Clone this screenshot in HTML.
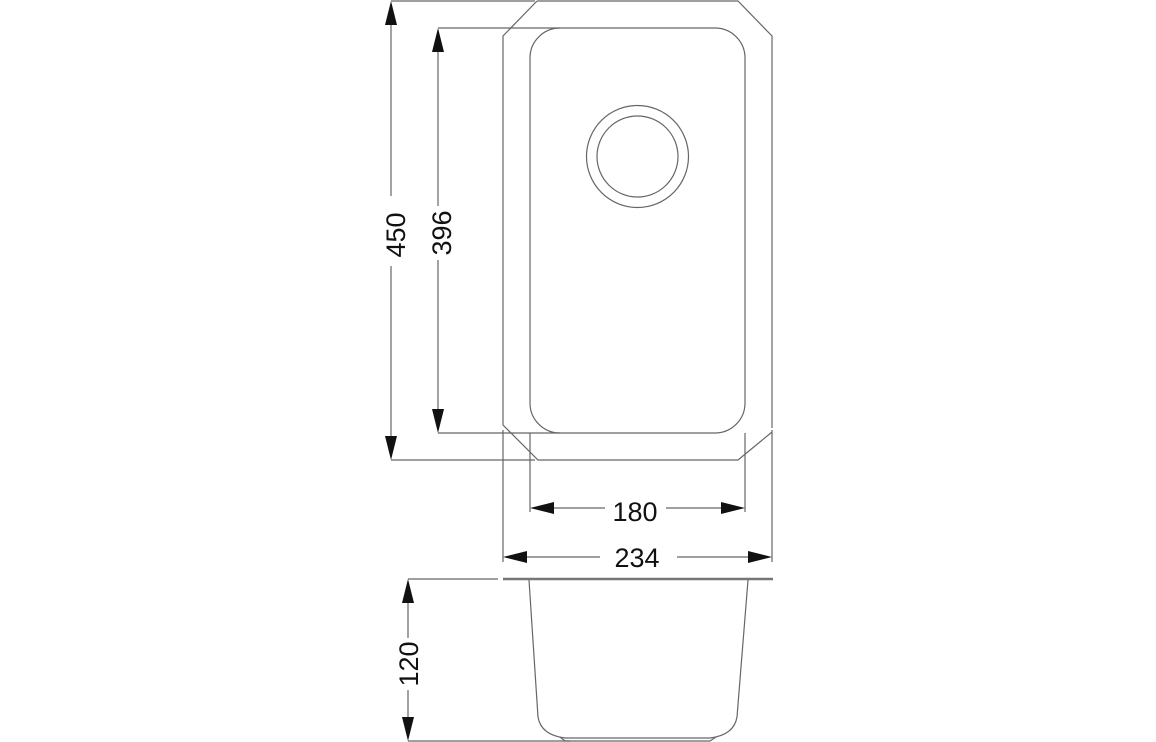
<!DOCTYPE html>
<html><head><style>
html,body{margin:0;padding:0;background:#fff;}
svg{display:block}
text{font-family:"Liberation Sans",Arial,sans-serif;font-size:27px;fill:#111}
</style></head><body>
<svg width="1156" height="742" viewBox="0 0 1156 742">
<g stroke="#666" stroke-width="1.2" fill="none">
<path d="M537,1 H738 L772,36 V428 M772,432 L738,460 H538 L503,425 V36 L537,1"/>
<rect x="530" y="28" width="215" height="405" rx="30" ry="30"/>
<circle cx="637.5" cy="156.5" r="51"/>
<circle cx="637.5" cy="156.5" r="40.5"/>
<path d="M391,1 H535 M438,28 H560 M391,460 H535 M438,433 H560"/>
<path d="M530,433 V512 M745,433 V512 M503,430 V562 M772,430 V562"/>
<path d="M391,22 V196 M391,266 V438"/>
<path d="M438,50 V206 M438,260 V412"/>
<path d="M552,508 H605 M666,508 H722"/>
<path d="M525,557 H600 M677,557 H750"/>
<path d="M529,580 L538,717 Q541,735 565,738 H710 Q734,735 737,717 L748,580"/>
<path d="M560,737 L565,741 H710 L716,737"/>
<path d="M408,579 H498 M408,741 H570"/>
<path d="M408,600 V638 M408,690 V720"/>
</g>
<path d="M503,579 H773" stroke="#777" stroke-width="2.5"/>
<g fill="#111">
<polygon points="391,1 385,25 397,25"/>
<polygon points="391,460 385,436 397,436"/>
<polygon points="438,28 432,52 444,52"/>
<polygon points="438,433 432,409 444,409"/>
<polygon points="530,508 554,502 554,514"/>
<polygon points="745,508 721,502 721,514"/>
<polygon points="503,557 527,551 527,563"/>
<polygon points="772,557 748,551 748,563"/>
<polygon points="408,579 402,603 414,603"/>
<polygon points="408,741 402,717 414,717"/>
</g>
<text x="635" y="521" text-anchor="middle">180</text>
<text x="637" y="567" text-anchor="middle">234</text>
<text transform="translate(405,235) rotate(-90)" text-anchor="middle">450</text>
<text transform="translate(451,233) rotate(-90)" text-anchor="middle">396</text>
<text transform="translate(418,664) rotate(-90)" text-anchor="middle">120</text>
</svg>
</body></html>
